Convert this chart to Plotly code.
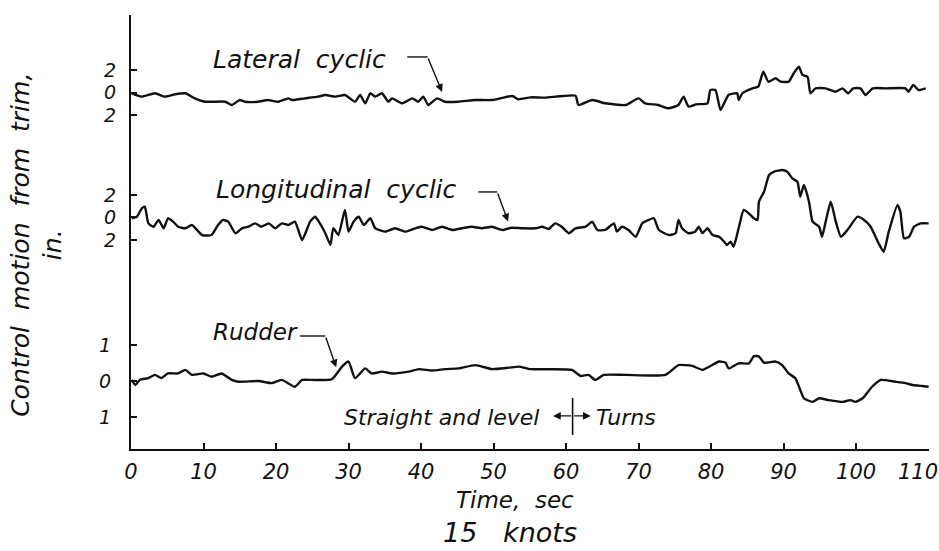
import plotly.graph_objects as go

# ---------------- data (time in s, control motion from trim in inches) ----------------
lat_t = [0.1, 1.5, 3.3, 4.7, 6.1, 7.5, 8.8, 10.2, 13.0, 13.9, 15.0, 15.7, 17.5, 18.9, 20.3, 21.7, 22.2, 24.0,
         25.8, 26.8, 28.2, 29.5, 30.9, 31.6, 32.3, 33.0, 33.7, 34.6, 35.5, 36.0, 37.4, 38.8, 39.6, 40.3, 41.0,
         42.2, 43.3, 45.1, 47.5, 49.8, 52.6, 53.4, 55.1, 57.1, 61.3, 61.7, 63.6, 65.4, 68.2, 70.0, 70.9, 72.7,
         74.1, 75.5, 76.2, 76.9, 77.9, 79.5, 79.9, 80.6, 81.3, 82.4, 83.6, 83.8, 84.3, 85.7, 86.5, 87.2, 87.9,
         88.9, 89.6, 90.7, 91.4, 92.1, 92.6, 93.3, 93.7, 94.4, 95.8, 97.2, 98.1, 98.9, 99.6, 100.6, 101.3,
         102.3, 104.1, 106.8, 107.2, 107.9, 108.6, 109.6]
lat_v = [-0.07, -0.37, -0.07, -0.37, -0.16, -0.07, -0.52, -0.82, -0.82, -1.11, -0.67, -0.82, -0.82, -0.67,
         -0.82, -0.52, -0.67, -0.52, -0.37, -0.22, -0.37, -0.22, -0.82, -0.22, -0.96, -0.07, -0.37, -0.07,
         -0.82, -0.52, -0.96, -0.52, -0.82, -0.37, -1.11, -0.52, -0.82, -0.82, -0.67, -0.67, -0.31, -0.60,
         -0.43, -0.46, -0.28, -1.11, -0.67, -0.96, -1.11, -0.52, -0.96, -1.11, -1.40, -1.11, -0.37, -1.26,
         -1.05, -0.96, 0.22, 0.22, -1.56, -0.22, -0.07, -0.67, -0.07, 0.37, 0.52, 1.85, 0.96, 1.26, 0.96,
         0.96, 1.71, 2.29, 1.56, 1.40, -0.07, 0.37, 0.37, 0.07, 0.37, -0.07, 0.37, 0.37, -0.22, 0.37, 0.37,
         0.37, 0.07, 0.67, 0.22, 0.37]

lon_t = [0.1, 0.8, 1.5, 1.9, 2.4, 3.1, 3.8, 4.5, 5.1, 5.8, 6.5, 7.5, 8.4, 9.8, 11.1, 12.0, 12.7, 13.4, 14.4,
         15.3, 16.2, 17.1, 18.0, 19.0, 19.9, 20.8, 21.7, 22.6, 23.6, 24.7, 25.4, 25.9, 26.8, 27.5, 27.9, 28.6,
         29.5, 30.0, 30.7, 31.4, 32.1, 33.0, 33.7, 35.1, 36.4, 37.8, 39.2, 40.1, 41.5, 42.9, 44.3, 45.6, 47.0,
         48.4, 49.8, 51.2, 52.5, 53.9, 55.8, 56.7, 57.6, 58.5, 59.4, 60.4, 61.3, 62.7, 63.6, 64.3, 65.4, 66.6,
         67.0, 67.7, 68.6, 69.6, 70.5, 71.4, 72.1, 72.8, 74.2, 75.1, 75.5, 76.0, 76.9, 77.8, 78.3, 78.8, 79.5,
         80.2, 81.1, 81.8, 82.2, 82.7, 83.1, 83.8, 84.5, 85.2, 85.9, 86.4, 86.6, 87.3, 88.0, 88.7, 89.8, 90.5,
         91.2, 91.9, 92.3, 92.8, 93.5, 94.0, 94.9, 95.3, 95.8, 96.5, 97.2, 97.9, 98.8, 100.2, 101.1, 102.0,
         103.1, 103.8, 104.5, 105.7, 106.1, 106.6, 107.3, 108.0, 108.9, 110.0]
lon_v = [-0.07, 0.07, 0.82, 0.96, -0.52, -0.82, -0.22, -0.96, -0.07, -0.37, -0.82, -0.96, -0.67, -1.56,
         -1.56, -0.67, -0.22, -0.37, -1.40, -0.96, -0.82, -0.52, -0.82, -0.52, -0.96, -0.52, -0.67, -0.37,
         -2.00, -0.37, 0.07, -0.37, -1.40, -2.44, -0.96, -1.56, 0.67, -1.26, -0.37, 0.07, -0.67, -0.07, -0.96,
         -1.26, -0.96, -1.26, -0.96, -0.82, -1.11, -0.82, -1.11, -0.96, -0.82, -0.96, -0.82, -1.11, -0.91,
         -0.96, -0.96, -0.82, -1.02, -0.52, -0.82, -1.40, -0.96, -0.82, -0.37, -1.11, -1.11, -0.52, -1.26,
         -0.82, -1.11, -1.71, -0.52, -0.22, -0.07, -1.11, -1.56, -1.40, -0.22, -0.96, -1.40, -1.26, -0.82,
         -1.40, -0.96, -1.56, -1.71, -2.15, -2.44, -2.15, -2.60, -0.96, 0.67, 0.37, -0.07, -0.22, 1.40, 2.29,
         3.78, 4.07, 4.22, 4.07, 3.48, 3.18, 1.85, 2.89, 1.40, -0.37, -0.82, -1.71, -0.37, 1.40, -0.37, -1.71,
         -1.11, 0.07, -0.22, -0.82, -2.29, -3.04, -1.26, 1.11, 0.52, -1.85, -1.71, -0.82, -0.52, -0.52]

rud_t = [0.1, 0.6, 1.2, 2.4, 3.3, 4.2, 5.1, 6.5, 7.5, 8.4, 10.0, 11.1, 12.5, 13.9, 14.8, 17.6, 19.4, 20.8,
         22.6, 23.6, 24.9, 27.7, 29.1, 30.0, 30.9, 32.3, 33.2, 34.6, 36.0, 38.3, 39.7, 41.5, 43.3, 45.2, 47.5,
         49.8, 52.1, 53.5, 55.1, 60.8, 62.0, 63.1, 64.0, 65.2, 68.2, 73.7, 75.5, 77.4, 78.8, 81.1, 82.0, 82.4,
         83.8, 85.2, 85.9, 86.6, 87.3, 88.9, 89.8, 90.7, 91.6, 92.3, 92.8, 94.0, 94.9, 96.2, 98.1, 99.2, 99.9,
         100.9, 102.2, 103.4, 105.4, 106.8, 107.8, 109.1, 110.0]
rud_v = [0.03, -0.11, 0.03, 0.08, 0.17, 0.08, 0.21, 0.21, 0.31, 0.17, 0.21, 0.12, 0.21, 0.03, -0.02, 0.00,
         -0.06, 0.03, -0.16, 0.03, 0.03, 0.05, 0.40, 0.54, 0.08, 0.35, 0.21, 0.26, 0.21, 0.26, 0.33, 0.29,
         0.33, 0.35, 0.44, 0.33, 0.37, 0.40, 0.33, 0.31, 0.14, 0.17, 0.03, 0.17, 0.17, 0.17, 0.44, 0.42, 0.31,
         0.54, 0.51, 0.35, 0.49, 0.49, 0.69, 0.68, 0.51, 0.54, 0.44, 0.21, 0.08, -0.25, -0.48, -0.58, -0.48,
         -0.53, -0.58, -0.53, -0.58, -0.48, -0.16, 0.03, -0.02, -0.06, -0.11, -0.14, -0.16]

x_ticks = [0, 10, 20, 30, 40, 50, 60, 70, 80, 90, 100, 110]
x_labels = ["0", "10", "20", "30", "40", "50", "60", "70", "80", "90", "100", ""]
last_x_label = "110"   # drawn separately, nudged left so it stays inside the page
cyc_ticks = [2, 0, -2]
cyc_labels = ["2", "0", "2"]
rud_ticks = [1, 0, -1]
rud_labels = ["1", "0", "1"]

# ---------------- figure ----------------
FONT = "DejaVu Sans"
INK = "#111111"
SP = "&nbsp;"


def f(size):
    return dict(family=FONT, size=size, color=INK, style="italic")


line = dict(color=INK, width=2.4, shape="spline", smoothing=0.5)

fig = go.Figure()
fig.add_trace(go.Scatter(x=rud_t, y=rud_v, mode="lines", line=line, yaxis="y", hoverinfo="skip"))
fig.add_trace(go.Scatter(x=lon_t, y=lon_v, mode="lines", line=line, yaxis="y2", hoverinfo="skip"))
fig.add_trace(go.Scatter(x=lat_t, y=lat_v, mode="lines", line=line, yaxis="y3", hoverinfo="skip"))

common_y = dict(showgrid=False, zeroline=False, ticks="inside", ticklen=6, tickwidth=1.5, tickcolor=INK,
                tickfont=f(19), ticklabelstandoff=14, fixedrange=True, automargin=False)

fig.update_layout(
    width=939, height=551,
    margin=dict(l=131, r=10, t=15, b=102, autoexpand=False),
    paper_bgcolor="white", plot_bgcolor="white",
    showlegend=False,
    xaxis=dict(range=[0, 110.05], tickvals=x_ticks, ticktext=x_labels, ticks="inside", ticklen=6,
               tickwidth=1.5, tickcolor=INK,
               showline=True, linecolor=INK, linewidth=2, showgrid=False, zeroline=False,
               tickfont=f(21), ticklabelstandoff=3, ticklabeloverflow="allow", fixedrange=True,
               automargin=False),
    yaxis=dict(range=[-1.889, 10.167], tickvals=rud_ticks, ticktext=rud_labels,
               showline=True, linecolor=INK, linewidth=2, **common_y),
    yaxis2=dict(range=[-20.58, 18.0], tickvals=cyc_ticks, ticktext=cyc_labels,
                overlaying="y", anchor="x", side="left", showline=False, **common_y),
    yaxis3=dict(range=[-31.69, 6.889], tickvals=cyc_ticks, ticktext=cyc_labels,
                overlaying="y", anchor="x", side="left", showline=False, **common_y),
)

ann = []
# last x tick label
ann.append(dict(text=last_x_label, x=x_ticks[-1], xref="x", y=-0.053, yref="paper", xanchor="center",
                yanchor="middle", xshift=-11, showarrow=False, font=f(21)))
# axis titles
ann.append(dict(text=f"Control{SP}{SP}motion{SP}{SP}from{SP}{SP}trim,<br>in.", xref="paper", yref="paper",
                x=-0.118, y=0.47, xanchor="center", yanchor="middle", textangle=-90,
                showarrow=False, font=f(25), align="center"))
ann.append(dict(text=f"Time,{SP}{SP}sec", xref="paper", yref="paper", x=0.481, y=-0.118,
                xanchor="center", yanchor="middle", showarrow=False, font=f(23)))
ann.append(dict(text=f"15{SP}{SP}{SP}knots", xref="paper", yref="paper", x=0.475, y=-0.192,
                xanchor="center", yanchor="middle", showarrow=False, font=f(27)))

# series labels
ann.append(dict(text=f"Lateral{SP}{SP}cyclic", x=11.0, y=2.9, xref="x", yref="y3", xanchor="left",
                yanchor="middle", showarrow=False, font=f(25)))
ann.append(dict(text=f"Longitudinal{SP}{SP}cyclic", x=11.5, y=2.5, xref="x", yref="y2", xanchor="left",
                yanchor="middle", showarrow=False, font=f(25)))
ann.append(dict(text="Rudder", x=11.0, y=1.36, xref="x", yref="y", xanchor="left",
                yanchor="middle", showarrow=False, font=f(23)))
ann.append(dict(text=f"Straight{SP}and{SP}level", x=56.5, y=-1.0, xref="x", yref="y", xanchor="right",
                yanchor="middle", showarrow=False, font=f(22)))
ann.append(dict(text="Turns", x=63.9, y=-1.0, xref="x", yref="y", xanchor="left",
                yanchor="middle", showarrow=False, font=f(22)))

# leader arrows (tail -> head)
def leader(x0, y0, x1, y1, yref):
    return dict(x=x1, y=y1, ax=x0, ay=y0, xref="x", yref=yref, axref="x", ayref=yref,
                text="", showarrow=True, arrowhead=2, arrowsize=1.1, arrowwidth=1.4, arrowcolor=INK)

ann.append(leader(40.9, 3.16, 42.9, 0.05, "y3"))
ann.append(leader(50.5, 2.27, 52.0, -0.35, "y2"))
ann.append(leader(26.8, 1.25, 28.3, 0.38, "y"))
ann.append(leader(60.9, -0.97, 58.2, -0.97, "y"))
ann.append(leader(60.9, -0.97, 63.4, -0.97, "y"))
fig.update_layout(annotations=ann)

shapes = [
    dict(type="line", xref="x", yref="y3", x0=38.1, x1=40.9, y0=3.16, y1=3.16, line=dict(color=INK, width=1.4)),
    dict(type="line", xref="x", yref="y2", x0=47.9, x1=50.5, y0=2.27, y1=2.27, line=dict(color=INK, width=1.4)),
    dict(type="line", xref="x", yref="y", x0=23.3, x1=26.8, y0=1.25, y1=1.25, line=dict(color=INK, width=1.4)),
    dict(type="line", xref="x", yref="y", x0=60.9, x1=60.9, y0=-0.47, y1=-1.5, line=dict(color=INK, width=1.6)),
]
fig.update_layout(shapes=shapes)

fig.write_html("out.html", config={"displayModeBar": False},
               post_script="document.body.style.margin='0';document.body.style.overflow='hidden';")
